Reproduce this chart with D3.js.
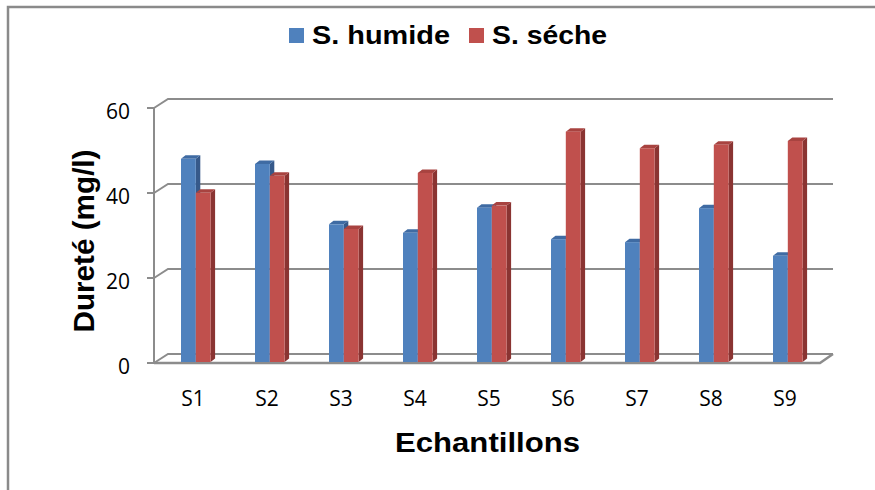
<!DOCTYPE html>
<html>
<head>
<meta charset="utf-8">
<script src="https://cdn.jsdelivr.net/npm/d3@7/dist/d3.min.js"></script>
<style>
  html, body { margin: 0; padding: 0; background: #ffffff; }
  svg { display: block; }
  .tick-label { font-family: "Open Sans", "DejaVu Sans", sans-serif; font-size: 21px; }
</style>
</head>
<body>
<svg id="chart" width="875" height="490"></svg>
<script>
// Water hardness per sample, wet season vs dry season
const categories = ["S1", "S2", "S3", "S4", "S5", "S6", "S7", "S8", "S9"];
const seriesNames = ["S. humide", "S. séche"];
const humide = [47.8, 46.6, 32.4, 30.4, 36.3, 28.9, 28.2, 36.2, 25.0];
const seche  = [39.8, 43.8, 31.3, 44.5, 36.8, 54.2, 50.3, 51.1, 52.0];
const yTicks = [0, 20, 40, 60];
const yTitle = "Dureté (mg/l)";
const xTitle = "Echantillons";

const colors = {
  "S. humide": { front: "#4F81BD", side: "#36598A", top: "#3F6BA3" },
  "S. séche":  { front: "#C0504D", side: "#8A3432", top: "#A84340" }
};

const svg = d3.select("#chart");

// Chart area frame
svg.append("path")
  .attr("d", "M8,490 V7 H875")
  .attr("fill", "none")
  .attr("stroke", "#8a8a8a")
  .attr("stroke-width", 2.5);

// Oblique projection of the 3D box
const depth = { dx: 14, dy: -9 };
const x = d3.scaleBand().domain(categories).range([154, 820]);
const y = d3.scaleLinear().domain([0, 60]).range([363, 108]);
const backRight = 833;

const grid = svg.append("g").attr("fill", "none").attr("stroke", "#8c8c8c").attr("stroke-width", 2);

// Back-wall gridlines with their side-wall diagonals
yTicks.forEach(v => {
  const yf = y(v), yb = y(v) + depth.dy;
  grid.append("path")
    .attr("d", `M${x.range()[0]},${yf} L${x.range()[0] + depth.dx},${yb} H${backRight}`);
  grid.append("path")
    .attr("d", `M${x.range()[0] - 7},${yf} H${x.range()[0]}`);
});

// Vertical axis line
grid.append("path").attr("d", `M${x.range()[0]},${y(60)} V${y(0)}`);

// Floor front and right edges
grid.append("path")
  .attr("d", `M${x.range()[0]},${y(0)} H${x.range()[1]} L${backRight},${y(0) + depth.dy}`)
  .attr("stroke-width", 2.5);

// Y tick labels
svg.append("g").selectAll("text").data(yTicks).join("text")
  .attr("class", "tick-label")
  .attr("x", 130)
  .attr("y", d => y(d) + 2.5)
  .attr("text-anchor", "end")
  .attr("dominant-baseline", "central")
  .attr("fill", "#000")
  .text(d => d);

// X tick labels
svg.append("g").selectAll("text").data(categories).join("text")
  .attr("class", "tick-label")
  .attr("x", d => x(d) + x.bandwidth() / 2 + 2)
  .attr("y", 398)
  .attr("text-anchor", "middle")
  .attr("dominant-baseline", "central")
  .attr("fill", "#000")
  .text(d => d);

// 3D bars
const barShift = { dx: 0, dy: -1 };
const sub = d3.scaleBand().domain(seriesNames).range([27, 27 + 29.6]);
const barDepth = { dx: 4.5, dy: -3.5 };

const rows = [];
categories.forEach((c, i) => {
  rows.push({ cat: c, s: seriesNames[0], v: humide[i] });
  rows.push({ cat: c, s: seriesNames[1], v: seche[i] });
});

const bars = svg.append("g");
rows.forEach(r => {
  const x0 = x(r.cat) + sub(r.s) + barShift.dx;
  const x1 = x0 + sub.bandwidth();
  const yb = y(0) + barShift.dy;
  const yt = y(r.v) + barShift.dy;
  const c = colors[r.s];
  const g = bars.append("g");
  // side face
  g.append("path")
    .attr("d", `M${x1},${yb} L${x1},${yt} L${x1 + barDepth.dx},${yt + barDepth.dy} L${x1 + barDepth.dx},${yb + barDepth.dy} Z`)
    .attr("fill", c.side);
  // top face
  g.append("path")
    .attr("d", `M${x0},${yt} L${x0 + barDepth.dx},${yt + barDepth.dy} L${x1 + barDepth.dx},${yt + barDepth.dy} L${x1},${yt} Z`)
    .attr("fill", c.top);
  // front face
  g.append("rect")
    .attr("x", x0).attr("y", yt)
    .attr("width", sub.bandwidth()).attr("height", yb - yt)
    .attr("fill", c.front);
});

// Legend
const legend = svg.append("g");
const legendItems = [
  { name: seriesNames[0], sx: 289, tx: 312, len: 138 },
  { name: seriesNames[1], sx: 469, tx: 492, len: 115 }
];
legendItems.forEach(it => {
  legend.append("rect")
    .attr("x", it.sx).attr("y", 28)
    .attr("width", 15).attr("height", 15)
    .attr("fill", colors[it.name].front);
  legend.append("text")
    .attr("x", it.tx).attr("y", 44)
    .attr("font-family", "'Liberation Sans', Arial, sans-serif")
    .attr("font-weight", "bold")
    .attr("font-size", 26)
    .attr("textLength", it.len)
    .attr("lengthAdjust", "spacingAndGlyphs")
    .attr("fill", "#000")
    .text(it.name);
});

// Axis titles
svg.append("text")
  .attr("x", 395).attr("y", 452)
  .attr("font-family", "'Liberation Sans', Arial, sans-serif")
  .attr("font-weight", "bold")
  .attr("font-size", 27)
  .attr("textLength", 185)
  .attr("lengthAdjust", "spacingAndGlyphs")
  .attr("fill", "#000")
  .text(xTitle);

svg.append("text")
  .attr("transform", "translate(94,241) rotate(-90)")
  .attr("text-anchor", "middle")
  .attr("font-family", "'Liberation Sans', Arial, sans-serif")
  .attr("font-weight", "bold")
  .attr("font-size", 29)
  .attr("textLength", 183)
  .attr("lengthAdjust", "spacingAndGlyphs")
  .attr("fill", "#000")
  .text(yTitle);
</script>
</body>
</html>
